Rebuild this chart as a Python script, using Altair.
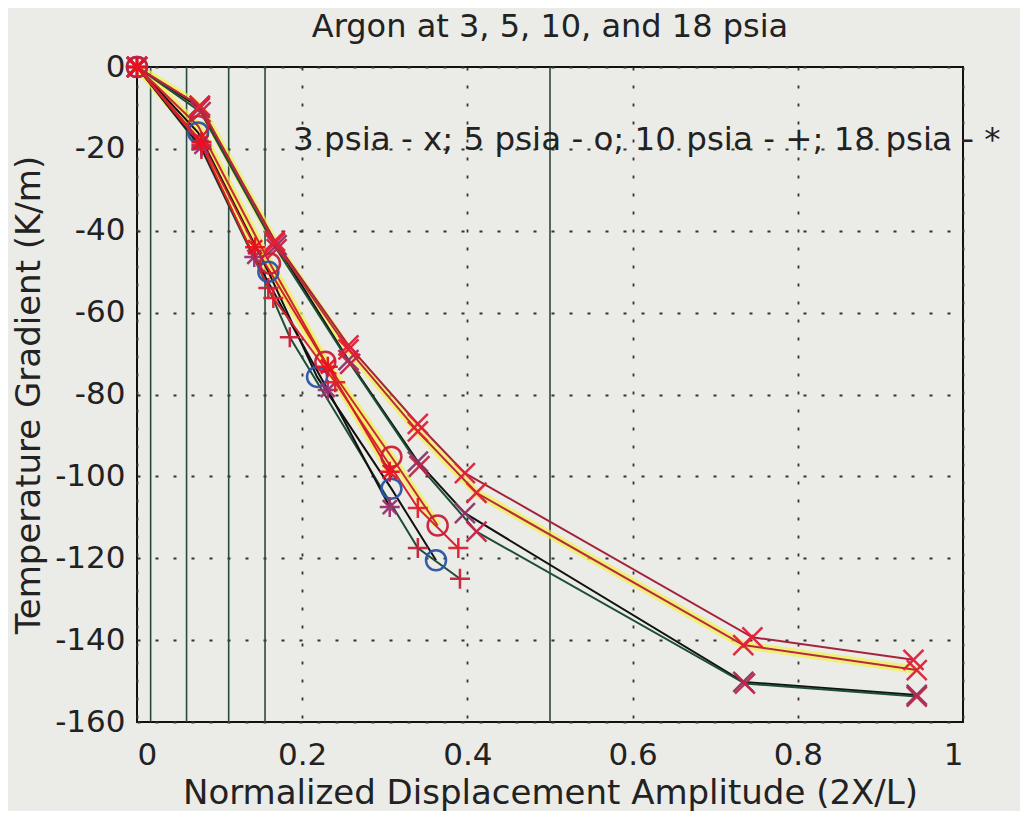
import altair as alt
import pandas as pd

TITLE = "Argon at 3, 5, 10, and 18 psia"
X_TITLE = "Normalized Displacement Amplitude (2X/L)"
Y_TITLE = "Temperature Gradient (K/m)"
NOTE = "3 psia - x; 5 psia - o; 10 psia - +; 18 psia - *"
FONT = "DejaVu Sans"

x_ticks = [0, 0.2, 0.4, 0.6, 0.8, 1]
y_ticks = [0, -20, -40, -60, -80, -100, -120, -140, -160]
ref_lines_x = [0.0165, 0.060, 0.111, 0.155, 0.5]

# 3 psia (x markers)
x_3a = [0, 0.076, 0.167, 0.256, 0.340, 0.397, 0.745, 0.940]
y_3a = [0, -9.5, -42.5, -68.0, -87.2, -99.2, -139.3, -144.8]
x_3b = [0, 0.076, 0.167, 0.256, 0.340, 0.411, 0.734, 0.944]
y_3b = [0, -9.5, -43.0, -69.0, -89.0, -104.0, -141.2, -147.3]
x_3c = [0, 0.076, 0.169, 0.256, 0.340, 0.397, 0.734, 0.944]
y_3c = [0, -10.0, -43.5, -71.6, -96.4, -109.0, -150.2, -153.4]
x_3d = [0, 0.077, 0.169, 0.258, 0.342, 0.411, 0.736, 0.944]
y_3d = [0, -11.0, -44.5, -72.5, -97.5, -113.5, -150.6, -153.8]
# 5 psia (o markers)
x_5a = [0, 0.074, 0.161, 0.228, 0.308, 0.364]
y_5a = [0, -14.4, -48.0, -72.0, -95.2, -112.0]
x_5b = [0, 0.074, 0.159, 0.218, 0.308, 0.362]
y_5b = [0, -16.0, -50.0, -75.7, -103.0, -120.5]
# 10 psia (+ markers)
x_10a = [0, 0.078, 0.165, 0.240, 0.340, 0.389]
y_10a = [0, -19.0, -56.4, -77.0, -107.7, -117.5]
x_10b = [0, 0.078, 0.159, 0.185, 0.340, 0.391]
y_10b = [0, -20.0, -54.0, -66.0, -117.5, -125.0]
# 18 psia (* markers)
x_18a = [0, 0.078, 0.143, 0.231, 0.306]
y_18a = [0, -18.3, -44.0, -73.2, -98.9]
x_18b = [0, 0.078, 0.142, 0.231, 0.306]
y_18b = [0, -19.5, -46.4, -78.9, -107.5]

series_names = ["3c", "3d", "5b", "10b", "18b", "3a", "3b", "10a", "5a", "18a"]
series_x = [x_3c, x_3d, x_5b, x_10b, x_18b, x_3a, x_3b, x_10a, x_5a, x_18a]
series_y = [y_3c, y_3d, y_5b, y_10b, y_18b, y_3a, y_3b, y_10a, y_5a, y_18a]
series_marker = ["x", "x", "o", "+", "*", "x", "x", "+", "o", "*"]
series_glow = [False, False, False, False, False, False, True, False, True, True]
line_colors = ["#111111", "#1c4f35", "#111111", "#1c4f35", "#111111",
               "#a3243b", "#b8293e", "#d8232a", "#c8283a", "#d22030"]
marker_colors = ["#8c3468", "#c0254a", "#2c55a8", "#c8203a", "#9a3070",
                 "#e0203a", "#e0203a", "#e02030", "#c8203a", "#e8101e"]

rows = []
for i, name in enumerate(series_names):
    for j, (xv, yv) in enumerate(zip(series_x[i], series_y[i])):
        rows.append({"x": xv, "y": yv, "series": name, "idx": j,
                     "marker": series_marker[i], "glow": series_glow[i],
                     "mcolor": marker_colors[i]})
df = pd.DataFrame(rows)

X_PATH = "M-1,-1L1,1M-1,1L1,-1"
PLUS_PATH = "M-1,0L1,0M0,-1L0,1"
STAR_PATH = "M-1,0L1,0M0,-1L0,1M-0.7,-0.7L0.7,0.7M-0.7,0.7L0.7,-0.7"

xs = alt.Scale(domain=[0, 1], nice=False, zero=False)
ys = alt.Scale(domain=[-160, 0], nice=False, zero=False)

x_enc = alt.X("x:Q", scale=xs, title=X_TITLE,
              axis=alt.Axis(values=x_ticks, labelExpr="toString(datum.value)", grid=True))
y_enc = alt.Y("y:Q", scale=ys, title=Y_TITLE,
              axis=alt.Axis(values=y_ticks, labelExpr="toString(datum.value)", grid=True))

base = alt.Chart(df)

rules = alt.Chart(pd.DataFrame({"x": ref_lines_x})).mark_rule(
    color="#2a4a3a", strokeWidth=1.6).encode(x=alt.X("x:Q", scale=xs))

glow = base.transform_filter("datum.glow").mark_line(
    color="#f2f24a", strokeWidth=8, opacity=0.7).encode(
    x=x_enc, y=y_enc, detail="series:N", order="idx:Q")

lines = base.mark_line(strokeWidth=2).encode(
    x=x_enc, y=y_enc, detail="series:N", order="idx:Q",
    color=alt.Color("series:N", scale=alt.Scale(domain=series_names, range=line_colors),
                    legend=None))

points = base.mark_point(filled=False, strokeWidth=2.5, size=400, opacity=0.95).encode(
    x=x_enc, y=y_enc,
    shape=alt.Shape("marker:N", scale=alt.Scale(domain=["x", "o", "+", "*"],
                                                range=[X_PATH, "circle", PLUS_PATH, STAR_PATH]),
                    legend=None),
    color=alt.Color("mcolor:N", scale=None))

note = alt.Chart(pd.DataFrame({"x": [0.189], "y": [-17.8], "t": [NOTE]})).mark_text(
    align="left", baseline="middle", fontSize=32.5, font=FONT, color="#222222"
).encode(x=alt.X("x:Q", scale=xs), y=alt.Y("y:Q", scale=ys), text="t:N")

chart = alt.layer(rules, glow, lines, points, note).properties(
    width=826, height=655,
    padding={"left": 129, "top": 59, "right": 57, "bottom": 89},
    autosize=alt.AutoSizeParams(type="none"),
    background="#ebebe7",
    title=alt.TitleParams(TITLE, fontSize=32, font=FONT, fontWeight="normal",
                          color="#222222", offset=7, anchor="middle"),
).configure_view(
    stroke="#111111", strokeWidth=2
).configure_axis(
    labelFont=FONT, titleFont=FONT,
    labelFontSize=31, titleFontSize=34, titleFontWeight="normal",
    labelColor="#222222", titleColor="#222222",
    domain=False, ticks=False,
    gridColor="#333333", gridDash=[3, 15], gridWidth=1.8, gridOpacity=1,
).configure_axisX(
    labelPadding=18, titlePadding=6
).configure_axisY(
    labelPadding=12, titlePadding=8
)

chart.save("out.html", embed_options={"renderer": "svg", "actions": False})
